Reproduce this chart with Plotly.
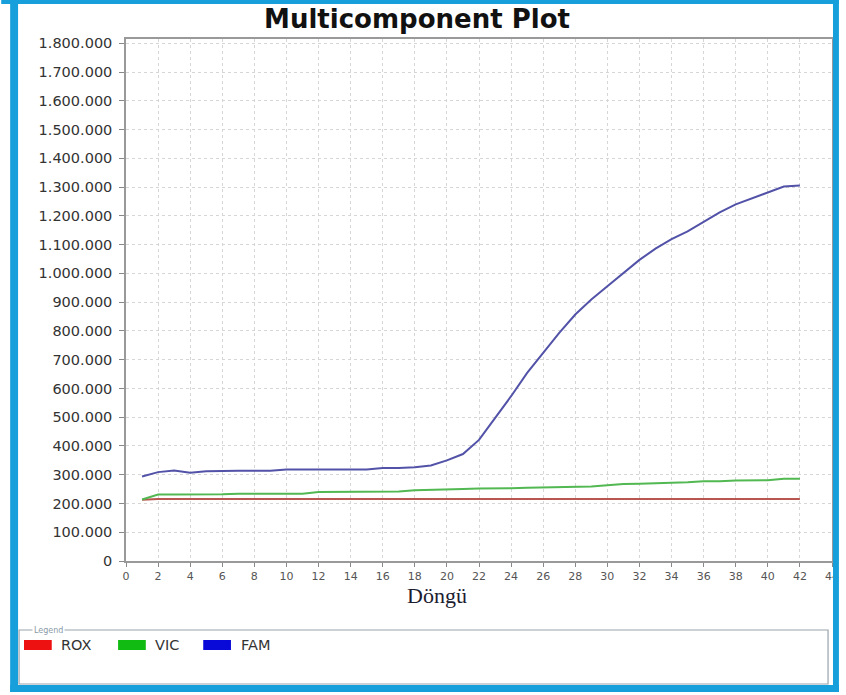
import plotly.graph_objects as go

# Cycle numbers and fluorescence per dye
cycles = list(range(1, 43))

rox = [213000, 216000, 216000, 216000, 216000, 216000, 216000, 216000, 216000, 216000,
       216000, 216000, 216000, 216000, 216000, 216000, 216000, 216000, 216000, 216000,
       216000, 216000, 216000, 216000, 216000, 216000, 216000, 216000, 216000, 216000,
       216000, 216000, 216000, 216000, 216000, 216000, 216000, 216000, 216000, 216000,
       216000, 216000]

vic = [214000, 231000, 231000, 231000, 231000, 232000, 234000, 234000, 234000, 234000,
       234000, 240000, 240000, 240000, 241000, 241000, 242000, 246000, 247000, 247000,
       250000, 252000, 252000, 253000, 255000, 256000, 259000, 259000, 259000, 263000,
       268000, 269000, 270000, 271000, 274000, 277000, 277000, 280000, 280000, 281000,
       286000, 286000]

fam = [294000, 309000, 315000, 307000, 312000, 314000, 314000, 314000, 314000, 318000,
       318000, 318000, 318000, 318000, 318000, 323000, 323000, 326000, 332000, 350000,
       372000, 421000, 495000, 573000, 654000, 724000, 793000, 857000, 909000, 955000,
       1001000, 1047000, 1086000, 1119000, 1146000, 1180000, 1212000, 1240000, 1260000, 1280000,
       1302000, 1306000]

series_names = ["ROX", "VIC", "FAM"]
line_colors = ["#b8564f", "#52b852", "#5252a8"]
legend_colors = ["#ee1111", "#11bb11", "#0a0ad8"]

x_ticks = list(range(0, 45, 2))
y_ticks = list(range(0, 1800001, 100000))

W, H = 846, 695
L, R, T, B = 126, 7, 39, 134
PW, PH = W - L - R, H - T - B


def px(x):
    return (x - L) / PW


def py(y):
    return (H - B - y) / PH


fig = go.Figure()
for name, vals, col in zip(series_names, [rox, vic, fam], line_colors):
    fig.add_trace(go.Scatter(x=cycles, y=vals, mode="lines", name=name,
                             line=dict(color=col, width=2), showlegend=False))

shapes = []
blue = "#179fdb"
# outer blue frame
for x0, y0, x1, y1 in [(9, 0, 17, 692), (0, 0, 846, 4), (840, 0, 846, 692), (9, 685, 846, 692)]:
    shapes.append(dict(type="rect", xref="paper", yref="paper",
                       x0=px(x0), x1=px(x1), y0=py(y1), y1=py(y0),
                       fillcolor=blue, line=dict(width=0), layer="above"))
# legend box
shapes.append(dict(type="rect", xref="paper", yref="paper",
                   x0=px(18), x1=px(835), y0=py(684), y1=py(630),
                   fillcolor="white", line=dict(color="#9aa4ab", width=1.2)))

annotations = []
swatch_x = [23, 118, 204]
label_x = [58, 153, 240]
for name, col, sx, lx in zip(series_names, legend_colors, swatch_x, label_x):
    shapes.append(dict(type="rect", xref="paper", yref="paper",
                       x0=px(sx), x1=px(sx + 28), y0=py(650), y1=py(640),
                       fillcolor=col, line=dict(width=0)))
    annotations.append(dict(text=name, xref="paper", yref="paper",
                            x=px(lx), y=py(645), xanchor="left", yanchor="middle",
                            showarrow=False,
                            font=dict(family="DejaVu Sans", size=14.5, color="#333333")))

annotations.append(dict(text="Legend", xref="paper", yref="paper",
                        x=px(31), y=py(630), xanchor="left", yanchor="middle",
                        showarrow=False, bgcolor="white",
                        font=dict(family="DejaVu Sans", size=8, color="#8a9aa8")))

annotations.append(dict(text="Döngü", xref="paper", yref="paper",
                        x=px(440), y=py(582), xanchor="center", yanchor="top",
                        showarrow=False, borderpad=0,
                        font=dict(family="Liberation Serif", size=22, color="#1c1c30")))

fig.update_layout(
    width=W, height=H,
    margin=dict(l=L, r=R, t=T, b=B),
    paper_bgcolor="white", plot_bgcolor="white",
    separators=",.",
    title=dict(text="Multicomponent Plot", x=417 / W, xanchor="center",
               y=1 - 19 / H, yanchor="middle",
               font=dict(family="DejaVu Sans", size=26, color="#111111", weight="bold")),
    xaxis=dict(range=[0, 44], tickvals=x_ticks, ticks="outside", ticklen=4,
               tickcolor="#888888", showline=True, linecolor="#999999", linewidth=1.5,
               mirror=True, showgrid=True, gridcolor="#d6d6d6", griddash="dot",
               zeroline=False,
               tickfont=dict(family="DejaVu Sans", size=11, color="#555555")),
    yaxis=dict(range=[0, 1815000], tickvals=y_ticks, tickformat=",d",
               ticks="outside", ticklen=5, tickcolor="#888888",
               showline=True, linecolor="#999999", linewidth=1.5, mirror=True,
               showgrid=True, gridcolor="#d6d6d6", griddash="dot", zeroline=False,
               ticklabelstandoff=4,
               tickfont=dict(family="DejaVu Sans", size=14.5, color="#333333")),
    shapes=shapes,
    annotations=annotations,
)

fig.write_html("out.html")
